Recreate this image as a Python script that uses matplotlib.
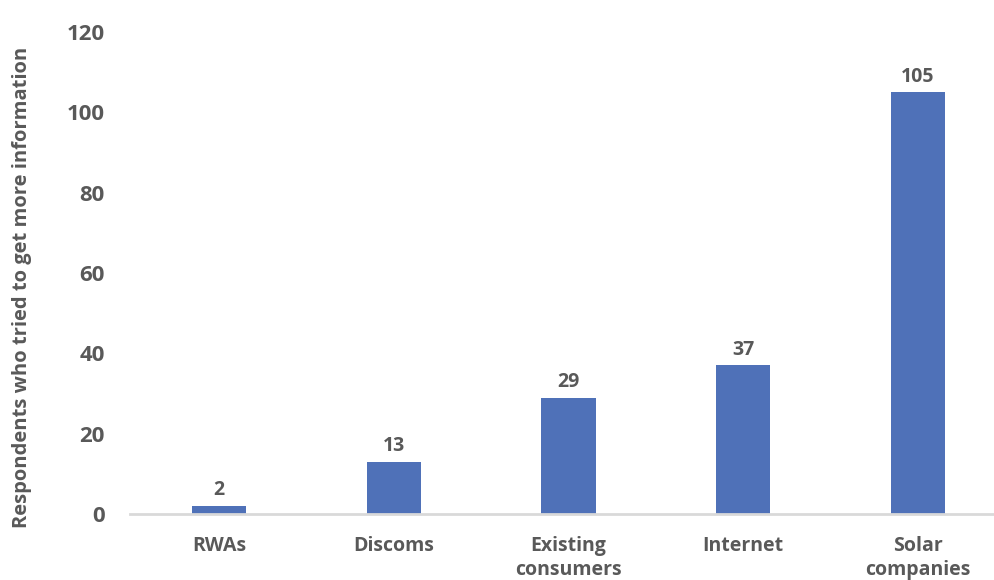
import matplotlib.pyplot as plt

plt.rcParams['font.family'] = ['Open Sans', 'DejaVu Sans']

# data
categories = ['RWAs', 'Discoms', 'Existing\nconsumers', 'Internet', 'Solar\ncompanies']
values = [2, 13, 29, 37, 105]

bar_color = '#4F71B8'
text_color = '#595959'

fig = plt.figure(figsize=(9.94, 5.8), dpi=100)
ax = fig.add_axes([130 / 994, 66 / 580, 864 / 994, 482 / 580])

x = list(range(len(categories)))
ax.bar(x, values, width=0.31, color=bar_color, zorder=2)

for xi, v in zip(x, values):
    ax.annotate(str(v), (xi, v), xytext=(0, 4), textcoords='offset points',
                ha='center', va='bottom', fontsize=14, fontweight='bold',
                color=text_color)

ax.set_xlim(-0.51, 4.435)
ax.set_ylim(0, 120)
ax.set_yticks(range(0, 121, 20))
ax.set_xticks(x)
ax.set_xticklabels(categories, fontsize=14, fontweight='bold', color=text_color,
                   linespacing=1.25, va='top')

ax.tick_params(axis='y', length=0, pad=18, labelsize=16, labelcolor=text_color)
ax.tick_params(axis='x', length=0, pad=16)
for lbl in ax.get_yticklabels():
    lbl.set_fontweight('bold')

for side in ['top', 'right', 'left']:
    ax.spines[side].set_visible(False)
ax.spines['bottom'].set_color('#D9D9D9')
ax.spines['bottom'].set_linewidth(2)

ax.set_ylabel('Respondents who tried to get more information', fontsize=14.5,
              fontweight='bold', color=text_color)
ax.yaxis.set_label_coords(-98 / 864, 0.47)

fig.savefig('out.png', dpi=100)
